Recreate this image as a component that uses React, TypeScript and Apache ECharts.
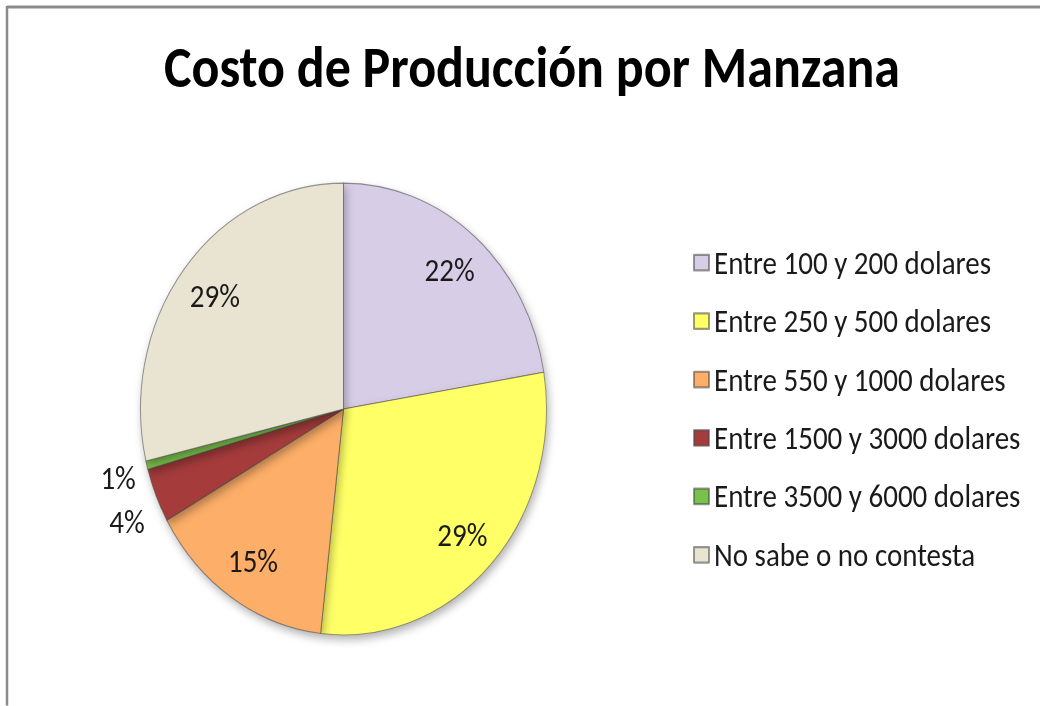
import React, { useEffect, useRef } from "react";
import * as echarts from "echarts";

const categories = [
  "Entre 100 y 200 dolares",
  "Entre 250 y 500 dolares",
  "Entre 550 y 1000 dolares",
  "Entre 1500 y 3000 dolares",
  "Entre 3500 y 6000 dolares",
  "No sabe o no contesta",
];
const percentages = [22.4, 29.4, 15.0, 3.9, 0.6, 28.7];
const sliceColors = ["#D7CDE6", "#FFFF66", "#FDAE68", "#A53B3B", "#78C24A", "#E8E4D1"];
const outsideLabelIdx = [3, 4];
const titleText = "Costo de Producción por Manzana";

const S = 1.113;
const W = 1040;
const H = Math.round(706 / S);
const CX = 343.5;
const CY = 367.5;
const FONT = "Carlito, Lato, 'Open Sans', sans-serif";
const labelOffsets: Record<number, number[]> = { 3: [7, 9], 4: [9, 2] };

export default function App() {
  const ref = useRef<HTMLDivElement>(null);
  useEffect(() => {
    if (!ref.current) return;
    const chart = echarts.init(ref.current, null, { renderer: "svg" });
    const baseData = categories.map((name, i) => ({
      name,
      value: percentages[i],
      itemStyle: { color: sliceColors[i] },
    }));
    const labelData = (inside: boolean) =>
      categories.map((name, i) => {
        const isOut = outsideLabelIdx.includes(i);
        const lbl: any = { show: inside ? !isOut : isOut };
        if (labelOffsets[i]) lbl.offset = labelOffsets[i];
        return { name, value: percentages[i], label: lbl };
      });
    const labelSeries = (r: number, inside: boolean) => ({
      type: "pie",
      center: [CX, CY],
      radius: [0, r],
      startAngle: 90,
      silent: true,
      avoidLabelOverlap: false,
      itemStyle: { color: "rgba(0,0,0,0)", borderWidth: 0 },
      emphasis: { disabled: true },
      labelLine: { show: false },
      label: {
        position: "inside",
        formatter: (p: any) => Math.round(p.value) + "%",
        fontFamily: FONT,
        fontSize: 29,
        color: "#1a1a1a",
      },
      data: labelData(inside),
      z: 5,
    });
    chart.setOption({
      animation: false,
      backgroundColor: "#ffffff",
      title: {
        text: titleText,
        left: 527,
        top: 30,
        textAlign: "center",
        textStyle: { fontFamily: FONT, fontWeight: "bold", fontSize: 52, color: "#000" },
      },
      legend: {
        orient: "vertical",
        left: 693,
        top: 221,
        padding: 0,
        itemWidth: 15,
        itemHeight: 14,
        itemGap: 22.5,
        icon: "rect",
        selectedMode: false,
        data: categories,
        textStyle: { fontFamily: FONT, fontSize: 29, lineHeight: 30, color: "#1a1a1a" },
      },
      graphic: [
        { type: "line", shape: { x1: 7, y1: 7 / S, x2: W, y2: 7 / S }, style: { stroke: "#8a8a8a", lineWidth: 2.5 } },
        { type: "line", shape: { x1: 7, y1: 6 / S, x2: 7, y2: H }, style: { stroke: "#8a8a8a", lineWidth: 2.5 } },
      ],
      series: [
        {
          type: "pie",
          center: [CX, CY],
          radius: [0, 203],
          startAngle: 90,
          silent: true,
          label: { show: false },
          labelLine: { show: false },
          itemStyle: {
            borderColor: "rgba(70,70,70,0.55)",
            borderWidth: 1,
            shadowBlur: 8,
            shadowOffsetX: 2,
            shadowOffsetY: 4,
            shadowColor: "rgba(0,0,0,0.3)",
          },
          data: baseData,
        },
        labelSeries(322, true),
        labelSeries(478, false),
      ],
    });
    return () => chart.dispose();
  }, []);
  return (
    <div style={{ position: "fixed", left: 0, top: 0, width: W, height: 706, overflow: "hidden", background: "#fff" }}>
      <div
        ref={ref}
        style={{ width: W, height: H, transform: `scaleY(${S})`, transformOrigin: "0 0" }}
      />
    </div>
  );
}
